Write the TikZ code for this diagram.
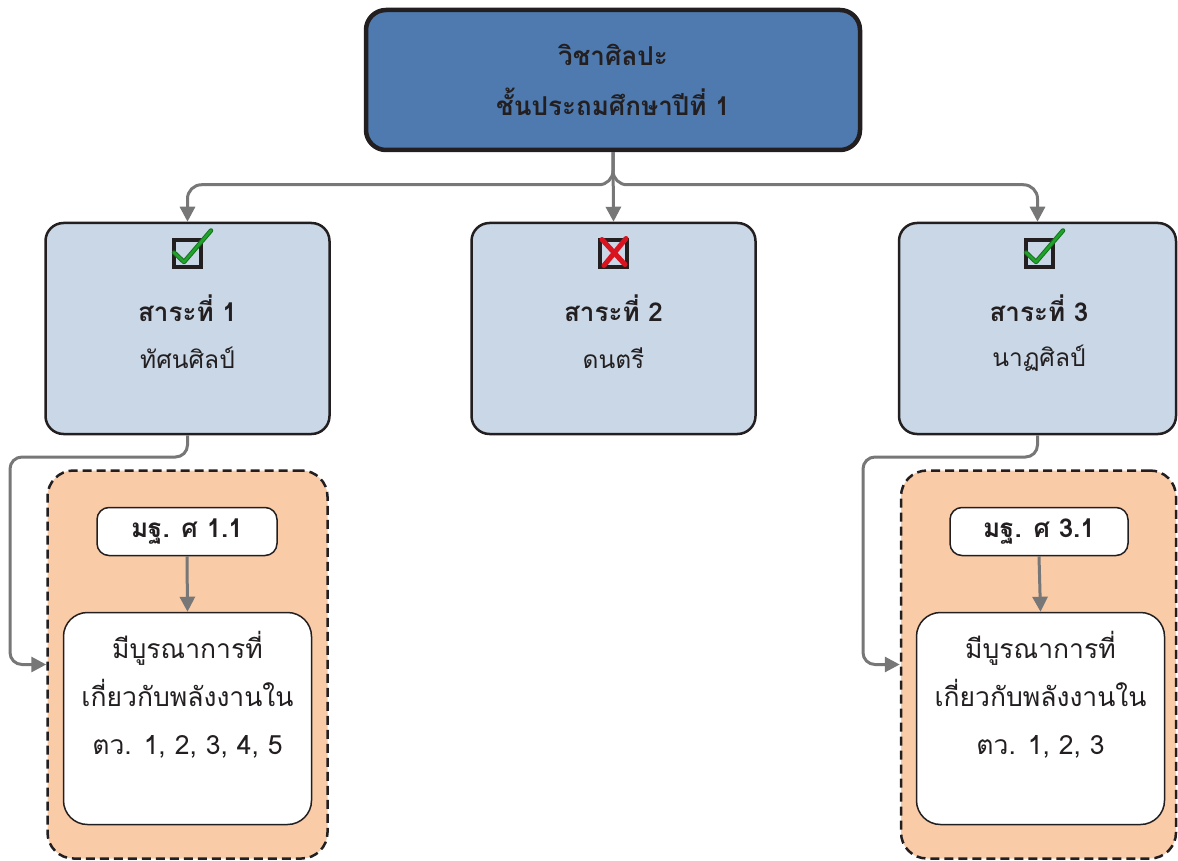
\documentclass[tikz,border=0pt]{standalone}
\usepackage{fontspec}
\setmainfont[Script=Thai]{Loma}
\usetikzlibrary{arrows.meta,calc}
\definecolor{topblue}{HTML}{4E7AAF}
\definecolor{midblue}{HTML}{C9D7E6}
\definecolor{peach}{HTML}{F9CBA7}
\definecolor{ink}{HTML}{231F20}
\definecolor{conngray}{HTML}{777777}
\definecolor{checkgreen}{HTML}{1FA32A}
\definecolor{crossred}{HTML}{D9141E}
\tikzset{
  topbox/.style={draw=ink, line width=4.5pt, fill=topblue, rounded corners=20pt, minimum width=494pt, minimum height=140pt, inner sep=0pt, text=ink, align=center, font=\fontsize{26}{50}\selectfont\bfseries},
  midbox/.style={draw=ink, line width=2.5pt, fill=midblue, rounded corners=18pt, minimum height=211pt, inner sep=0pt},
  groupbox/.style={draw=ink, line width=2.5pt, dash pattern=on 9pt off 5pt, fill=peach, rounded corners=26pt, minimum height=388pt, inner sep=0pt},
  stdbox/.style={draw=ink, line width=1.5pt, fill=white, rounded corners=12pt, minimum height=48pt, inner sep=0pt, text=ink, font=\fontsize{26}{30}\selectfont\bfseries},
  whitebox/.style={draw=ink, line width=1.5pt, fill=white, rounded corners=24pt, minimum width=248pt, minimum height=212pt, inner sep=0pt},
  headtext/.style={text=ink, inner sep=0pt, font=\fontsize{26}{30}\selectfont\bfseries},
  subtext/.style={text=ink, inner sep=0pt, font=\fontsize{24.5}{30}\selectfont},
  bodytext/.style={text=ink, align=center, inner sep=0pt, font=\fontsize{26.5}{48}\selectfont},
  conn/.style={draw=conngray, line width=3pt, -{Triangle[length=15pt,width=15pt]}},
  tickbox/.style={draw=ink, line width=4pt, minimum size=27pt, inner sep=0pt},
}
\begin{document}
\begin{tikzpicture}[x=1pt,y=-1pt]
\useasboundingbox (0,0) rectangle (1178,861);

% top box
\node[topbox] (top) at (613,80) {วิชาศิลปะ\\ชั้นประถมศึกษาปีที่ 1};

% middle boxes
\node[midbox, minimum width=284pt] (m1) at (187.5,328.5) {};
\node[midbox, minimum width=284pt] (m2) at (613.5,328.5) {};
\node[midbox, minimum width=277pt] (m3) at (1037.5,328.5) {};

\node[headtext] (h1) at (187.5,308) {สาระที่ 1};
\node[headtext] (h2) at (613.5,308) {สาระที่ 2};
\node[headtext] (h3) at (1039,308) {สาระที่ 3};
\node[subtext] (n1) at (187.5,358) {ทัศนศิลป์};
\node[subtext] (n2) at (613.5,358) {ดนตรี};
\node[subtext] (n3) at (1039,358) {นาฏศิลป์};

% icons
\node[tickbox] (c1) at (187,253.5) {};
\node[tickbox] (c2) at (613,253.5) {};
\node[tickbox] (c3) at (1039,253.5) {};
\foreach \c in {c1,c3}{
  \draw[checkgreen!70!black, line width=4.5pt, line cap=round, line join=round]
    ($(\c.center)+(-13,-1)$) -- ($(\c.center)+(-3,8.5)$) -- ($(\c.center)+(24,-23)$);
  \draw[checkgreen, line width=2.5pt, line cap=round, line join=round]
    ($(\c.center)+(-13,-1)$) -- ($(\c.center)+(-3,8.5)$) -- ($(\c.center)+(24,-23)$);
}
\draw[crossred, line width=5pt, line cap=round]
  ($(c2.center)+(-11,-14)$) -- ($(c2.center)+(12,11)$);
\draw[crossred, line width=5pt, line cap=round]
  ($(c2.center)+(-9,12)$) -- ($(c2.center)+(13,-15)$);

% group boxes
\node[groupbox, minimum width=280pt] (g1) at (187.5,664.5) {};
\node[groupbox, minimum width=275pt] (g3) at (1038.5,664.5) {};

\node[stdbox, minimum width=180pt] (s1) at (187,531.5) {มฐ. ศ 1.1};
\node[stdbox, minimum width=178pt] (s3) at (1039,531.5) {มฐ. ศ 3.1};

\node[whitebox] (w1) at (187.5,718.5) {};
\node[whitebox] (w3) at (1040.5,718.5) {};

\node[bodytext] (b1) at (187.5,695) {มีบูรณาการที่\\เกี่ยวกับพลังงานใน\\ตว. 1, 2, 3, 4, 5};
\node[bodytext] (b3) at (1040.5,695) {มีบูรณาการที่\\เกี่ยวกับพลังงานใน\\ตว. 1, 2, 3};

% connectors
\draw[conn] (top.south) -- (m2.north);
\draw[conn, rounded corners=14pt] (top.south) |- ($(m1.north)+(0,-37)$) -- (m1.north);
\draw[conn, rounded corners=14pt] (top.south) |- ($(m3.north)+(0,-37)$) -- (m3.north);

\coordinate (l1) at (10,457);
\coordinate (l3) at (863,457);
\draw[conn, rounded corners=12pt] (m1.south) |- (l1) |- (g1.west);
\draw[conn, rounded corners=12pt] (m3.south) |- (l3) |- (g3.west);

\draw[conn] (s1.south) -- (w1.north);
\draw[conn] (s3.south) -- (w3.north);
\end{tikzpicture}
\end{document}
